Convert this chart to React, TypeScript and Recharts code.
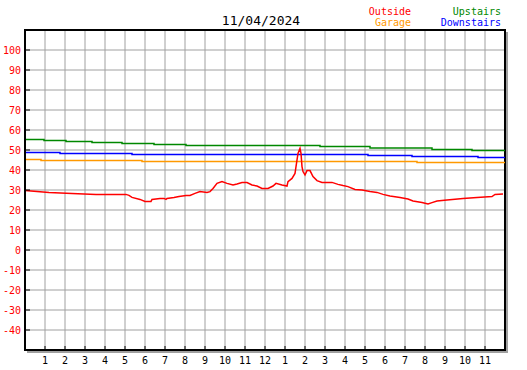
import { LineChart, Line, XAxis, YAxis, CartesianGrid, ReferenceArea, usePlotArea } from "recharts";

const hourTicks = [1, 2, 3, 4, 5, 6, 7, 8, 9, 10, 11, 12, 13, 14, 15, 16, 17, 18, 19, 20, 21, 22, 23];
const tempTicks = [-40, -30, -20, -10, 0, 10, 20, 30, 40, 50, 60, 70, 80, 90, 100];

const outsideHours = [
  0, 0.6, 1.2, 2.35, 3.55, 5.05, 5.2, 5.35, 5.75, 6, 6.3, 6.35, 6.75, 6.95, 7.05, 7.1, 7.45, 7.7, 8.05,
  8.25, 8.5, 8.75, 9.1, 9.25, 9.4, 9.6, 9.85, 10.1, 10.4, 10.6, 10.85, 11.1, 11.35, 11.6, 11.85, 12.15,
  12.4, 12.55, 12.85, 13.1, 13.15, 13.35, 13.5, 13.55, 13.65, 13.75, 13.8, 13.85, 13.9, 14, 14.1, 14.25,
  14.4, 14.6, 14.85, 15.35, 15.65, 15.9, 16.15, 16.5, 16.85, 17.25, 17.6, 17.9, 18.25, 18.75, 19.15,
  19.4, 19.85, 20.15, 20.35, 20.6, 21.1, 21.9, 22.6, 23.35, 23.5, 23.9,
];
const outsideTemps = [
  29.8, 29.3, 28.8, 28.3, 27.8, 27.8, 27.3, 26.3, 25.3, 24.3, 24.3, 25.3, 25.8, 25.8, 25.3, 25.8, 26.3, 26.8, 27.3,
  27.3, 28.3, 29.2, 28.8, 29.2, 30.8, 33.3, 34.2, 33.3, 32.5, 33, 33.7, 33.7, 32.5, 32, 30.8, 30.8,
  32, 33.3, 32.5, 32, 34.2, 35.8, 38.3, 41.7, 48.3, 50.8, 48.3, 41.7, 39.2, 37.5, 39.7, 39.7,
  36.7, 34.7, 33.8, 33.8, 32.8, 32.2, 31.7, 30.3, 30, 29.2, 28.8, 27.8, 27, 26.3, 25.5,
  24.5, 23.7, 23, 23.7, 24.5, 25, 25.7, 26.3, 26.7, 27.8, 28,
];

const upstairsHours = [0, 0.95, 2.05, 3.35, 4.85, 6.45, 8.05, 14.75, 17.25, 20.35, 22.35, 24];
const upstairsTemps = [55.3, 54.8, 54.3, 53.8, 53.3, 52.8, 52.3, 51.7, 51, 50.3, 49.7, 49.7];

const downstairsHours = [0, 1.75, 5.35, 17.15, 19.35, 22.65, 24];
const downstairsTemps = [48.8, 48.3, 47.8, 47.3, 46.8, 46.3, 46.3];

const garageHours = [0, 0.8, 5.85, 19.6, 24];
const garageTemps = [45.3, 44.8, 44.3, 43.8, 43.8];

const toPoints = (hours: number[], temps: number[]) => hours.map((h, i) => ({ h, v: temps[i] }));

const outside = toPoints(outsideHours, outsideTemps);
const upstairs = toPoints(upstairsHours, upstairsTemps);
const downstairs = toPoints(downstairsHours, downstairsTemps);
const garage = toPoints(garageHours, garageTemps);

const FONT = "'DejaVu Sans Mono', monospace";

function Shadow() {
  const area = usePlotArea ? usePlotArea() : undefined;
  if (!area) return null;
  const { x, y, width, height } = area;
  return (
    <polyline
      points={`${x + 2},${y + height + 2} ${x + width + 2},${y + height + 2} ${x + width + 2},${y + 2}`}
      fill="none"
      stroke="#a0a0a0"
      strokeWidth={2}
    />
  );
}

const YTick = (props: any) => {
  const { x, y, payload } = props;
  return (
    <g>
      <line x1={x + 4} x2={x + 9} y1={y} y2={y} stroke="#000" />
      <text x={x} y={y} dy={4} textAnchor="end" fill="#ff0000" fontSize={10} fontFamily={FONT}>
        {payload.value}
      </text>
    </g>
  );
};

const XTick = (props: any) => {
  const { x, y, payload } = props;
  const label = payload.value > 12 ? payload.value - 12 : payload.value;
  return (
    <g>
      <line x1={x} x2={x} y1={y - 4} y2={y} stroke="#000" />
      <text x={x} y={y} dy={14} textAnchor="middle" fill="#000" fontSize={10} fontFamily={FONT}>
        {label}
      </text>
    </g>
  );
};

export default function App() {
  return (
    <div style={{ position: "absolute", left: 0, top: 0, background: "#fff" }}>
      <LineChart width={527} height={370} margin={{ top: 30, right: 22, left: 0, bottom: 0 }}>
        <CartesianGrid stroke="#a0a0a0" strokeWidth={1} />
        <XAxis
          type="number"
          dataKey="h"
          domain={[0, 24]}
          ticks={hourTicks}
          interval={0}
          height={20}
          tickSize={0}
          tickMargin={0}
          tickLine={false}
          axisLine={{ stroke: "#000", strokeWidth: 2 }}
          tick={XTick}
          allowDataOverflow
        />
        <YAxis
          type="number"
          domain={[-50, 110]}
          ticks={tempTicks}
          interval={0}
          width={25}
          tickSize={0}
          tickMargin={4}
          tickLine={false}
          axisLine={{ stroke: "#000", strokeWidth: 2 }}
          tick={YTick}
          allowDataOverflow
        />
        <Shadow />
        <ReferenceArea x1={0} x2={24} y1={-50} y2={110} fill="none" stroke="#000" strokeWidth={2} ifOverflow="visible" />
        <Line data={garage} dataKey="v" type="stepAfter" stroke="#ff9900" strokeWidth={1.5} dot={false} isAnimationActive={false} />
        <Line data={downstairs} dataKey="v" type="stepAfter" stroke="#0000ff" strokeWidth={1.5} dot={false} isAnimationActive={false} />
        <Line data={upstairs} dataKey="v" type="stepAfter" stroke="#008800" strokeWidth={1.5} dot={false} isAnimationActive={false} />
        <Line data={outside} dataKey="v" type="linear" stroke="#ff0000" strokeWidth={1.5} dot={false} isAnimationActive={false} />
        <text x={261} y={25} textAnchor="middle" fontSize={13} fontFamily={FONT} fill="#000">11/04/2024</text>
        <text x={411} y={15} textAnchor="end" fontSize={10} fontFamily={FONT} fill="#ff0000">Outside</text>
        <text x={411} y={26} textAnchor="end" fontSize={10} fontFamily={FONT} fill="#ff9900">Garage</text>
        <text x={501} y={15} textAnchor="end" fontSize={10} fontFamily={FONT} fill="#008800">Upstairs</text>
        <text x={501} y={26} textAnchor="end" fontSize={10} fontFamily={FONT} fill="#0000ff">Downstairs</text>
      </LineChart>
    </div>
  );
}
